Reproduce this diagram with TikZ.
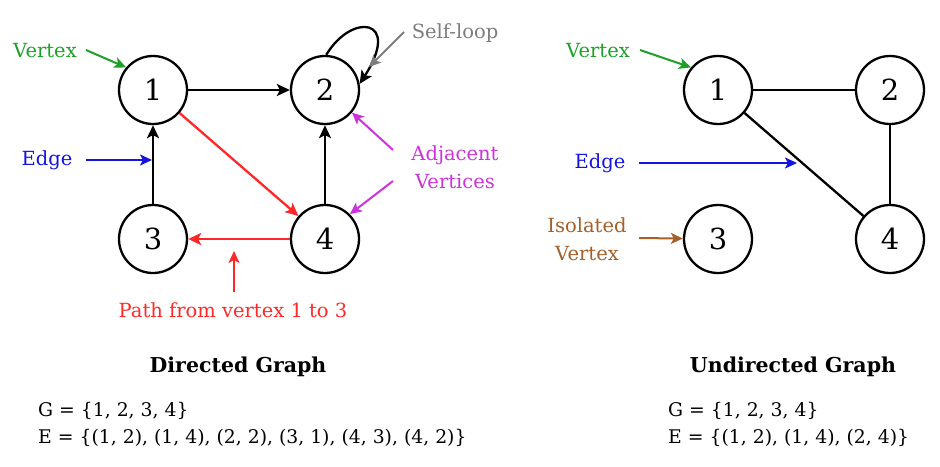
\documentclass[tikz,border=0pt]{standalone}
\usepackage{fontspec}
\setmainfont{DejaVu Serif}
\usetikzlibrary{arrows.meta}
\definecolor{cgreen}{RGB}{30,160,40}
\definecolor{cblue}{RGB}{20,20,225}
\definecolor{cmag}{RGB}{205,50,220}
\definecolor{cred}{RGB}{255,40,40}
\definecolor{cgray}{RGB}{125,125,125}
\definecolor{cbrown}{RGB}{165,95,40}
\tikzset{
  vert/.style={circle,draw,line width=2.3pt,minimum size=68pt,inner sep=0pt,font=\fontsize{29}{32}\selectfont},
  lbl/.style={inner sep=0pt,font=\fontsize{19.5}{22}\selectfont},
  edg/.style={line width=2.3pt},
  arr/.style={line width=2.3pt,-{Stealth[length=13pt,width=12pt,inset=3pt]}},
  ptr/.style={line width=2pt,-{Stealth[length=12pt,width=11pt,inset=3pt]}},
  ttl/.style={inner sep=0pt,font=\bfseries\fontsize{20.5}{24}\selectfont},
  setl/.style={inner sep=0pt,anchor=west,align=left,font=\fontsize{18.8}{27}\selectfont},
}
\begin{document}
\begin{tikzpicture}[x=1pt,y=-1pt]
\useasboundingbox (0,0) rectangle (940,466);
% directed graph
\node[vert] (d1) at (153,90) {1};
\node[vert] (d2) at (325,90) {2};
\node[vert] (d3) at (153,239) {3};
\node[vert] (d4) at (325,239) {4};
\draw[arr] (d1) -- (d2);
\draw[arr] (d3) -- (d1);
\draw[arr] (d4) -- (d2);
\draw[arr,cred] (d1) -- (d4);
\draw[arr,cred] (d4) -- (d3);
\draw[arr] (d2.88) .. controls (352,12) and (402,18) .. (d2.10);
% labels directed
\node[lbl,text=cgreen] (lv1) at (45,51) {Vertex};
\coordinate (lv1s) at (86,50);
\draw[ptr,cgreen] (lv1s) -- (d1.140);
\node[lbl,text=cgray] (lsl) at (455,33) {Self-loop};
\coordinate (lsls) at (404,32);
\coordinate (lslt) at (369,67);
\draw[ptr,cgray] (lsls) -- (lslt);
\node[lbl,text=cblue] (le1) at (47,160) {Edge};
\coordinate (e31) at (152,160);
\coordinate (le1s) at (86,160);
\draw[ptr,cblue] (le1s) -- (e31);
\node[lbl,text=cmag,align=center,font=\fontsize{19.5}{28}\selectfont] (ladj) at (455,167) {Adjacent\\Vertices};
\coordinate (a1s) at (393,150);
\coordinate (a2s) at (393,181);
\draw[ptr,cmag] (a1s) -- (d2.-40);
\draw[ptr,cmag] (a2s) -- (d4.45);
\node[lbl,text=cred] (lpath) at (233,310) {Path from vertex 1 to 3};
\coordinate (ps) at (234,292);
\coordinate (pt) at (234,251);
\draw[ptr,cred] (ps) -- (pt);
\node[ttl] (tdir) at (238,367) {Directed Graph};
\node[setl] (sdir) at (38,424) {G = \{1, 2, 3, 4\}\\E = \{(1, 2), (1, 4), (2, 2), (3, 1), (4, 3), (4, 2)\}};
% undirected graph
\node[vert] (u1) at (718,90) {1};
\node[vert] (u2) at (890,90) {2};
\node[vert] (u3) at (718,239) {3};
\node[vert] (u4) at (890,239) {4};
\draw[edg] (u1) -- (u2);
\draw[edg] (u1) -- (u4);
\draw[edg] (u2) -- (u4);
\node[lbl,text=cgreen] (lv2) at (598,51) {Vertex};
\coordinate (lv2s) at (640,50);
\draw[ptr,cgreen] (lv2s) -- (u1.140);
\node[lbl,text=cblue] (le2) at (600,163) {Edge};
\coordinate (e14) at (797,163);
\coordinate (le2s) at (639,163);
\draw[ptr,cblue] (le2s) -- (e14);
\node[lbl,text=cbrown,align=center,font=\fontsize{19.5}{28}\selectfont] (liso) at (587,239) {Isolated\\Vertex};
\coordinate (isos) at (639,238);
\draw[ptr,cbrown] (isos) -- (u3);
\node[ttl] (tund) at (793,367) {Undirected Graph};
\node[setl] (sund) at (668,424) {G = \{1, 2, 3, 4\}\\E = \{(1, 2), (1, 4), (2, 4)\}};
\end{tikzpicture}
\end{document}
